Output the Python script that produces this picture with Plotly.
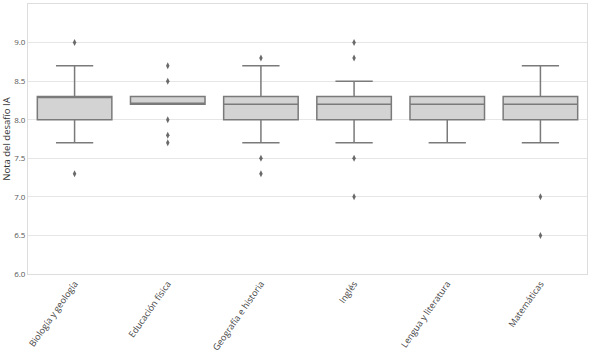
import plotly.graph_objects as go

categories = ["Biología y geología", "Educación física", "Geografía e historia",
              "Inglés", "Lengua y literatura", "Matemáticas"]
q1 = [8.0, 8.2, 8.0, 8.0, 8.0, 8.0]
median = [8.3, 8.2, 8.2, 8.2, 8.2, 8.2]
q3 = [8.3, 8.3, 8.3, 8.3, 8.3, 8.3]
lower_whisker = [7.7, 8.2, 7.7, 7.7, 7.7, 7.7]
upper_whisker = [8.7, 8.3, 8.7, 8.5, 8.3, 8.7]
outliers = {
    "Biología y geología": [9.0, 7.3],
    "Educación física": [8.7, 8.5, 8.0, 7.8, 7.7],
    "Geografía e historia": [8.8, 7.5, 7.3],
    "Inglés": [9.0, 8.8, 7.5, 7.0],
    "Lengua y literatura": [],
    "Matemáticas": [7.0, 6.5],
}
y_ticks = [6.0, 6.5, 7.0, 7.5, 8.0, 8.5, 9.0, 9.5]

line_col = "#7a7a7a"
fig = go.Figure()
fig.add_trace(go.Box(
    x=categories, q1=q1, median=median, q3=q3,
    lowerfence=lower_whisker, upperfence=upper_whisker,
    fillcolor="#d3d3d3", line=dict(color=line_col, width=1.5),
    whiskerwidth=0.5, boxpoints=False, showlegend=False, hoverinfo="skip",
))
ox, oy = [], []
for c in categories:
    for v in outliers[c]:
        ox.append(c)
        oy.append(v)
fig.add_trace(go.Scatter(
    x=ox, y=oy, mode="markers", showlegend=False,
    marker=dict(symbol="diamond-tall", size=5, color="#6a6a6a"),
))

fig.update_layout(
    width=591, height=357,
    margin=dict(l=28, r=4, t=4, b=83),
    paper_bgcolor="white", plot_bgcolor="white",
    boxgap=0.2, boxgroupgap=0,
    font=dict(family="Open Sans, DejaVu Sans, sans-serif", color="#555555", size=8),
    xaxis=dict(
        categoryorder="array", categoryarray=categories, automargin=False,
        tickangle=-55, tickfont=dict(size=9, color="#444444"),
        showgrid=False, showline=True, linecolor="#dddddd", mirror=True,
        ticks="", zeroline=False,
    ),
    yaxis=dict(
        range=[6.0, 9.5], tickvals=y_ticks, tickformat=".1f", automargin=False,
        showgrid=True, gridcolor="#e6e6e6", gridwidth=1,
        showline=True, linecolor="#dddddd", mirror=True, zeroline=False,
        ticks="", ticklen=0,
        tickfont=dict(size=8, color="#555555"),
        title=dict(text="Nota del desafío IA", font=dict(size=9.5, color="#333333"), standoff=2),
    ),
)
fig.write_html("out.html", config={"displayModeBar": False},
               post_script="document.body.style.margin='0';document.body.style.padding='0';")
